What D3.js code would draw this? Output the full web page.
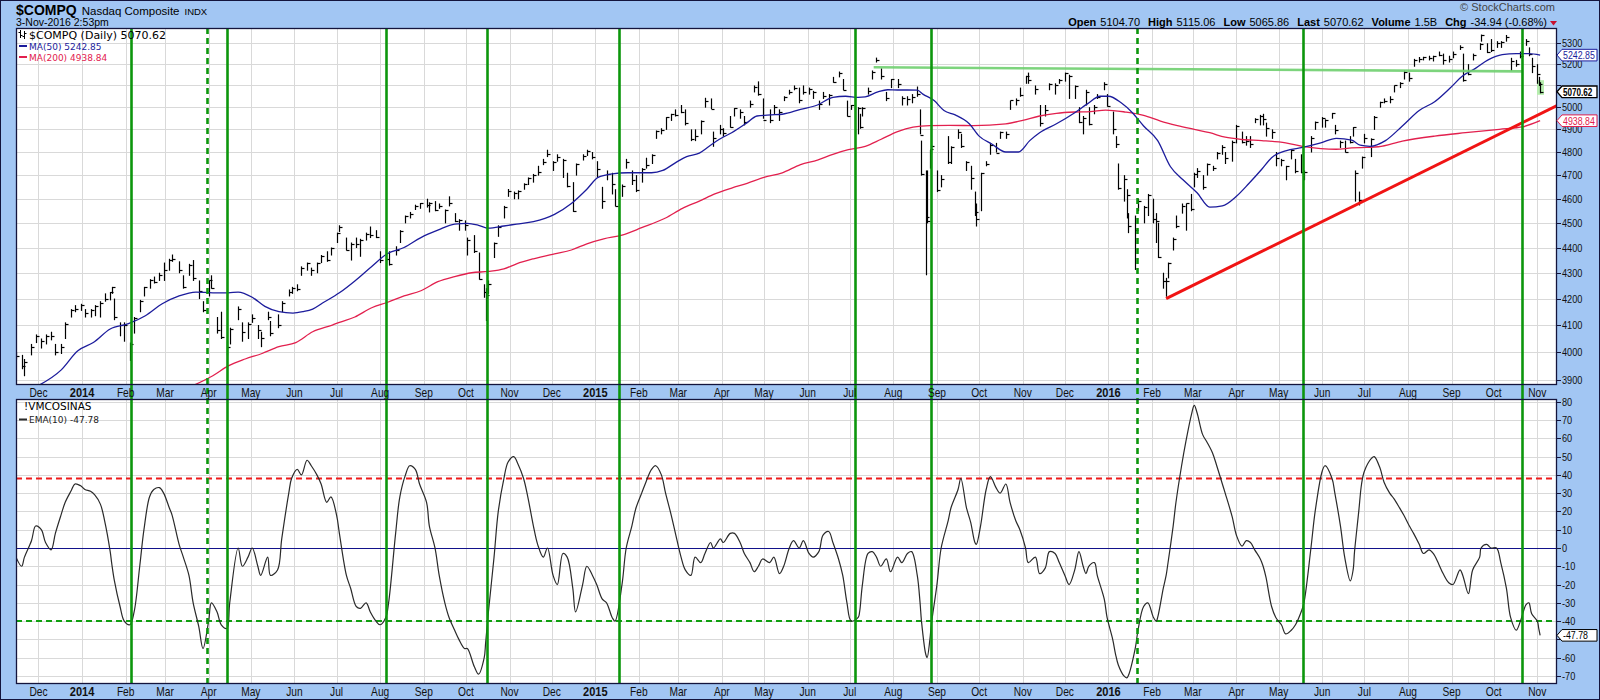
<!DOCTYPE html>
<html><head><meta charset="utf-8">
<script src="https://cdn.jsdelivr.net/npm/d3@7"></script>
<style>body{margin:0;background:#fff}</style>
</head><body><svg id="c" width="1600" height="700"></svg>
<script>
// ---------------- DATA ----------------
const barDates = [
"2013-11-15","2013-11-19","2013-11-21","2013-11-26","2013-11-29",
"2013-12-03","2013-12-06","2013-12-10","2013-12-13","2013-12-17","2013-12-20","2013-12-24","2013-12-27","2013-12-31",
"2014-01-03","2014-01-07","2014-01-10","2014-01-14","2014-01-17","2014-01-21","2014-01-22","2014-01-24","2014-01-28","2014-01-31",
"2014-02-04","2014-02-07","2014-02-11","2014-02-14","2014-02-18","2014-02-21","2014-02-25","2014-02-28",
"2014-03-04","2014-03-06","2014-03-11","2014-03-14","2014-03-18","2014-03-21","2014-03-25","2014-03-28",
"2014-04-01","2014-04-03","2014-04-07","2014-04-10","2014-04-14","2014-04-16","2014-04-22","2014-04-25","2014-04-29",
"2014-05-02","2014-05-06","2014-05-08","2014-05-13","2014-05-15","2014-05-20","2014-05-23","2014-05-28","2014-05-30",
"2014-06-03","2014-06-06","2014-06-10","2014-06-13","2014-06-17","2014-06-20","2014-06-24","2014-06-27",
"2014-07-01","2014-07-03","2014-07-08","2014-07-11","2014-07-15","2014-07-18","2014-07-22","2014-07-25","2014-07-29",
"2014-08-01","2014-08-05","2014-08-07","2014-08-12","2014-08-15","2014-08-19","2014-08-22","2014-08-26","2014-08-29",
"2014-09-03","2014-09-05","2014-09-09","2014-09-12","2014-09-16","2014-09-19","2014-09-23","2014-09-26","2014-09-30",
"2014-10-02","2014-10-07","2014-10-10","2014-10-14","2014-10-15","2014-10-17","2014-10-21","2014-10-24","2014-10-28","2014-10-31",
"2014-11-04","2014-11-07","2014-11-11","2014-11-14","2014-11-18","2014-11-21","2014-11-25","2014-11-28",
"2014-12-02","2014-12-05","2014-12-09","2014-12-12","2014-12-16","2014-12-18","2014-12-23","2014-12-26","2014-12-30",
"2015-01-02","2015-01-06","2015-01-09","2015-01-13","2015-01-15","2015-01-20","2015-01-23","2015-01-27","2015-01-30",
"2015-02-03","2015-02-06","2015-02-10","2015-02-13","2015-02-17","2015-02-20","2015-02-24","2015-02-27",
"2015-03-03","2015-03-06","2015-03-10","2015-03-13","2015-03-17","2015-03-20","2015-03-24","2015-03-26","2015-03-31",
"2015-04-02","2015-04-07","2015-04-10","2015-04-14","2015-04-17","2015-04-21","2015-04-24","2015-04-27","2015-04-30",
"2015-05-05","2015-05-08","2015-05-12","2015-05-15","2015-05-19","2015-05-22","2015-05-26","2015-05-29",
"2015-06-02","2015-06-05","2015-06-09","2015-06-12","2015-06-16","2015-06-19","2015-06-23","2015-06-26","2015-06-29",
"2015-07-02","2015-07-07","2015-07-08","2015-07-10","2015-07-14","2015-07-17","2015-07-20","2015-07-23","2015-07-27","2015-07-30",
"2015-08-04","2015-08-07","2015-08-11","2015-08-14","2015-08-18","2015-08-20","2015-08-21","2015-08-24","2015-08-25","2015-08-27","2015-08-28",
"2015-09-01","2015-09-04","2015-09-09","2015-09-11","2015-09-16","2015-09-18","2015-09-22","2015-09-25","2015-09-28","2015-09-29",
"2015-10-02","2015-10-06","2015-10-09","2015-10-13","2015-10-16","2015-10-20","2015-10-23","2015-10-27","2015-10-30",
"2015-11-03","2015-11-05","2015-11-10","2015-11-13","2015-11-17","2015-11-20","2015-11-24","2015-11-27",
"2015-12-01","2015-12-04","2015-12-08","2015-12-11","2015-12-14","2015-12-16","2015-12-18","2015-12-22","2015-12-24","2015-12-29","2015-12-31",
"2016-01-04","2016-01-06","2016-01-08","2016-01-12","2016-01-14","2016-01-15","2016-01-20","2016-01-22","2016-01-26","2016-01-29",
"2016-02-02","2016-02-04","2016-02-05","2016-02-09","2016-02-11","2016-02-12","2016-02-16","2016-02-18","2016-02-22","2016-02-25","2016-02-29",
"2016-03-02","2016-03-04","2016-03-08","2016-03-11","2016-03-15","2016-03-18","2016-03-22","2016-03-24","2016-03-29",
"2016-04-01","2016-04-05","2016-04-08","2016-04-11","2016-04-14","2016-04-18","2016-04-20","2016-04-22","2016-04-26","2016-04-29",
"2016-05-03","2016-05-06","2016-05-10","2016-05-13","2016-05-17","2016-05-19","2016-05-24","2016-05-27",
"2016-06-01","2016-06-03","2016-06-08","2016-06-10","2016-06-14","2016-06-17","2016-06-21","2016-06-23","2016-06-24","2016-06-27","2016-06-29",
"2016-07-01","2016-07-06","2016-07-08","2016-07-12","2016-07-15","2016-07-19","2016-07-22","2016-07-26","2016-07-29",
"2016-08-02","2016-08-05","2016-08-09","2016-08-12","2016-08-16","2016-08-19","2016-08-23","2016-08-26","2016-08-30",
"2016-09-02","2016-09-07","2016-09-09","2016-09-13","2016-09-16","2016-09-21","2016-09-22","2016-09-26","2016-09-29",
"2016-10-03","2016-10-06","2016-10-10","2016-10-13","2016-10-17","2016-10-20","2016-10-24","2016-10-26","2016-10-28",
"2016-11-01","2016-11-02","2016-11-03"];

const barHigh = [
4000,3990,3975,4030,4065,
4050,4065,4075,4030,4030,4110,4160,4175,4180,
4160,4160,4175,4190,4220,4225,4245,4200,4110,4110,
4035,4130,4195,4245,4275,4285,4300,4340,
4355,4372,4345,4290,4335,4350,4270,4190,
4270,4290,4130,4150,4040,4090,4170,4110,4110,
4140,4100,4075,4150,4115,4140,4190,4235,4245,
4255,4325,4340,4320,4340,4370,4385,4400,
4460,4490,4440,4420,4440,4435,4460,4485,4470,
4385,4400,4385,4405,4470,4530,4545,4575,4582,
4600,4585,4590,4580,4555,4610,4540,4515,4510,
4440,4450,4380,4255,4240,4270,4420,4490,4570,4641,
4630,4635,4665,4690,4705,4740,4770,4810,
4760,4790,4770,4710,4670,4750,4790,4810,4800,
4760,4650,4720,4710,4640,4660,4770,4720,4700,
4730,4775,4790,4895,4905,4955,4970,4990,
5010,4990,4900,4900,4940,5043,5040,4890,4920,
4905,4960,4996,4990,4960,5030,5100,5119,5040,
4990,5010,4990,5050,5080,5100,5090,5100,
5090,5075,5030,5070,5060,5140,5165,5130,5030,
5010,5000,4970,5000,5090,5170,5231,5180,5070,5130,
5130,5050,5050,5060,5095,4990,4850,4720,4720,4810,4830,
4720,4700,4870,4825,4900,4880,4760,4740,4630,4580,
4710,4760,4840,4840,4890,4890,5030,5040,5090,
5145,5160,5100,5010,5010,5110,5110,5130,
5160,5150,5100,5000,4960,5080,5000,5010,5060,5115,5060,
4980,4870,4750,4700,4640,4540,4530,4600,4570,4620,
4600,4540,4500,4300,4280,4340,4440,4530,4580,4580,4620,
4710,4730,4700,4750,4740,4800,4830,4800,4850,
4920,4890,4870,4870,4950,4965,4970,4930,4900,4800,
4770,4740,4810,4770,4790,4720,4870,4935,
4955,4945,4974,4920,4850,4850,4870,4910,4720,4630,4780,
4880,4860,4960,5025,5040,5050,5100,5115,5170,
5160,5225,5234,5235,5240,5240,5260,5250,5240,
5260,5290,5250,5200,5250,5300,5342,5300,5320,
5310,5310,5340,5230,5220,5260,5320,5280,5230,
5200,5140,5115.06];

const barLow = [
3975,3940,3915,3990,4035,
4015,4030,4045,3990,3995,4050,4130,4150,4155,
4130,4130,4135,4130,4190,4195,4220,4120,4060,4040,
3970,4070,4150,4210,4240,4260,4270,4270,
4310,4345,4300,4240,4290,4270,4200,4150,
4210,4240,4070,4050,3990,4030,4120,4040,4050,
4110,4050,4020,4120,4060,4090,4150,4210,4220,
4230,4290,4310,4290,4300,4340,4345,4370,
4420,4465,4390,4350,4400,4365,4430,4440,4440,
4340,4345,4330,4370,4420,4500,4520,4555,4560,
4565,4545,4550,4560,4500,4570,4505,4470,4470,
4370,4380,4275,4205,4117,4220,4360,4445,4520,4610,
4600,4600,4640,4660,4670,4700,4745,4780,
4720,4760,4690,4650,4547,4700,4765,4785,4770,
4690,4560,4680,4620,4570,4610,4730,4660,4630,
4670,4730,4750,4860,4880,4900,4940,4960,
4975,4920,4850,4850,4880,5000,4994,4825,4880,
4870,4910,4960,4950,4920,5000,5070,5055,4950,
4930,4970,4940,5030,5060,5080,5020,5060,
5060,5040,4990,5040,5010,5115,5140,5080,4960,
4990,4880,4905,4960,5060,5130,5210,5130,5030,5090,
5090,5010,5010,5020,5050,4880,4700,4292,4500,4730,4790,
4630,4650,4750,4750,4860,4820,4720,4640,4530,4487,
4550,4740,4790,4800,4860,4860,4990,5010,5050,
5110,5110,5060,4915,4960,5080,5060,5110,
5120,5040,5040,4930,4880,5010,4920,4970,5040,5080,5005,
4880,4820,4640,4590,4520,4460,4313,4550,4500,4530,
4500,4420,4360,4240,4209,4280,4390,4480,4540,4470,4550,
4650,4690,4640,4700,4720,4770,4790,4750,4760,
4840,4840,4830,4820,4930,4920,4920,4870,4860,4740,
4740,4680,4770,4710,4710,4680,4800,4900,
4910,4910,4950,4880,4820,4800,4840,4870,4590,4574,4730,
4840,4780,4900,5000,5020,5020,5070,5090,5130,
5120,5190,5210,5220,5220,5215,5240,5200,5210,
5230,5270,5120,5150,5220,5270,5310,5255,5260,
5280,5280,5310,5170,5190,5230,5290,5240,5160,
5110,5100,5065.86];

const barClose = [
3985,3950,3965,4020,4060,
4040,4060,4060,4000,4020,4105,4155,4160,4176,
4145,4155,4170,4183,4197,4225,4243,4130,4100,4100,
4030,4125,4190,4245,4270,4265,4290,4310,
4350,4355,4310,4245,4330,4280,4230,4155,
4270,4240,4080,4055,4020,4085,4160,4075,4105,
4125,4080,4050,4130,4070,4100,4185,4225,4240,
4235,4320,4338,4310,4337,4368,4350,4398,
4458,4485,4392,4415,4416,4432,4456,4449,4442,
4352,4353,4335,4390,4465,4528,4538,4570,4580,
4572,4582,4552,4568,4552,4580,4508,4512,4493,
4430,4385,4276,4227,4215,4258,4419,4483,4564,4631,
4623,4633,4660,4688,4702,4712,4758,4792,
4755,4780,4766,4653,4547,4748,4781,4806,4777,
4726,4592,4704,4661,4570,4654,4758,4681,4635,
4727,4744,4787,4893,4899,4955,4968,4964,
4979,4927,4859,4871,4937,5026,4994,4863,4901,
4886,4910,4996,4977,4932,5014,5092,5060,4941,
4940,5003,4977,5048,5070,5089,5032,5070,
5082,5068,5014,5051,5055,5117,5160,5080,4958,
5009,4997,4909,4997,5072,5163,5219,5146,5040,5129,
5105,5043,5036,5048,5059,4877,4706,4526,4506,4812,4828,
4636,4683,4756,4822,4889,4827,4756,4687,4543,4517,
4707,4749,4830,4796,4887,4880,5032,5031,5054,
5145,5127,5083,4927,4987,5105,5102,5127,
5156,5142,5099,4933,4952,5071,4923,5002,5048,5107,5007,
4903,4835,4643,4685,4615,4488,4472,4591,4567,4614,
4516,4509,4363,4268,4266,4338,4436,4487,4570,4582,4558,
4703,4718,4649,4748,4729,4796,4821,4773,4846,
4914,4843,4850,4833,4945,4960,4948,4906,4888,4775,
4763,4737,4810,4717,4715,4712,4861,4933,
4952,4943,4974,4895,4843,4800,4843,4910,4708,4594,4779,
4863,4859,4956,5022,5029,5036,5100,5110,5162,
5137,5221,5225,5233,5227,5238,5245,5219,5222,
5249,5283,5126,5155,5244,5295,5339,5257,5269,
5301,5306,5328,5213,5199,5241,5309,5250,5190,
5153,5105,5070.62];

// !VMCOSINAS EMA(10), same dates as barDates
const oscValues = [
-5,-10,-5,4,12,
10,3,-1,8,18,25,31,35,34,
32,31,29,24,15,-2,-8,-18,-32,-40,
-42,-35,-10,10,28,32,33,30,
22,18,2,-5,-15,-30,-43,-55,
-40,-30,-35,-42,-44,-30,0,-10,-5,
0,-10,-15,-5,-15,-12,5,30,38,
43,40,48,45,40,35,25,28,
18,8,-15,-22,-32,-33,-30,-35,-40,
-42,-38,-30,8,28,40,45,43,35,
25,12,0,-15,-30,-38,-45,-50,-55,
-55,-65,-69,-60,-52,-35,-5,20,38,47,
50,46,38,28,12,2,-5,0,
-15,-20,-3,-5,-22,-35,-20,-10,-15,
-20,-28,-30,-38,-40,-20,0,12,22,
30,36,43,45,40,30,18,8,
-5,-12,-15,-5,-8,-3,3,0,5,
3,8,8,3,-3,-8,-13,-10,-6,
-8,-5,-14,-10,0,4,0,4,
-3,-5,-2,7,9,3,-6,-15,-30,
-40,-38,-35,-20,-3,-2,-5,-10,-6,-13,
-5,-8,-3,-2,-15,-30,-40,-58,-60,-50,-42,
-20,0,15,22,32,38,22,14,3,2,
12,32,39,33,30,35,25,15,10,
0,-8,-5,-14,-11,-2,-3,-8,
-15,-20,-12,-2,-10,-14,-10,-8,-15,-28,-38,
-50,-58,-64,-70,-71,-70,-55,-45,-32,-30,
-38,-40,-38,-22,-15,-10,12,25,45,58,73,
78,74,62,58,52,45,35,30,17,
7,1,4,3,-1,-6,-10,-16,-32,-38,
-42,-47,-45,-42,-35,-30,0,20,
42,45,38,30,12,-5,-18,-12,-2,20,35,
42,49,50,44,36,30,27,22,18,
12,8,2,-3,-1,-3,-9,-14,-19,
-20,-12,-15,-25,-12,-5,0,2,0,
0,-8,-22,-38,-45,-40,-31,-30,-36,
-40,-44,-47.78];

const ma50Dates = ["2013-11-29","2013-12-17","2013-12-29","2014-01-09","2014-01-21","2014-02-03","2014-02-15","2014-02-27","2014-03-11","2014-03-23","2014-04-04","2014-04-15","2014-04-22","2014-05-02","2014-05-11","2014-05-21","2014-05-31","2014-06-07","2014-06-14","2014-06-21","2014-07-03","2014-07-14","2014-07-26","2014-08-06","2014-08-18","2014-08-30","2014-09-11","2014-09-23","2014-10-02","2014-10-10","2014-10-17","2014-10-28","2014-11-06","2014-11-18","2014-12-03","2014-12-15","2014-12-26","2015-01-03","2015-01-13","2015-01-24","2015-02-03","2015-02-10","2015-02-18","2015-02-28","2015-03-07","2015-03-16","2015-03-23","2015-03-30","2015-04-08","2015-04-19","2015-04-26","2015-05-06","2015-05-14","2015-05-27","2015-06-08","2015-06-19","2015-06-28","2015-07-07","2015-07-12","2015-07-21","2015-07-28","2015-08-04","2015-08-11","2015-08-18","2015-08-22","2015-08-30","2015-09-06","2015-09-14","2015-09-24","2015-10-01","2015-10-10","2015-10-20","2015-10-29","2015-11-06","2015-11-13","2015-11-25","2015-12-08","2015-12-17","2015-12-26","2016-01-01","2016-01-10","2016-01-18","2016-01-26","2016-02-05","2016-02-14","2016-02-23","2016-03-04","2016-03-13","2016-03-22","2016-04-01","2016-04-10","2016-04-19","2016-04-26","2016-05-06","2016-05-18","2016-05-31","2016-06-11","2016-06-22","2016-06-28","2016-07-05","2016-07-16","2016-07-28","2016-08-09","2016-08-20","2016-08-31","2016-09-09","2016-09-18","2016-09-27","2016-10-07","2016-10-17","2016-10-26","2016-11-03"];
const ma50Values = [3875,3935,4005,4035,4085,4105,4135,4180,4210,4225,4222,4222,4225,4205,4170,4150,4145,4150,4160,4183,4222,4268,4325,4375,4400,4440,4470,4495,4498,4490,4478,4487,4495,4505,4535,4580,4640,4690,4705,4710,4710,4710,4720,4757,4780,4795,4825,4855,4885,4930,4960,4965,4968,4990,5010,5045,5050,5045,5047,5070,5080,5079,5079,5078,5060,5030,4985,4965,4925,4870,4835,4800,4800,4850,4885,4925,4975,5015,5050,5050,5020,4975,4915,4850,4737,4680,4625,4565,4570,4610,4665,4725,4775,4805,4820,4840,4860,4852,4830,4825,4850,4915,4985,5025,5088,5145,5180,5220,5245,5250,5250,5242.85];

const ma200Dates = ["2014-03-20","2014-04-04","2014-04-15","2014-04-27","2014-05-09","2014-05-21","2014-06-02","2014-06-14","2014-06-28","2014-07-03","2014-07-14","2014-07-26","2014-08-06","2014-08-18","2014-08-30","2014-09-11","2014-09-23","2014-10-05","2014-10-17","2014-10-28","2014-11-06","2014-11-18","2014-12-03","2014-12-15","2014-12-26","2015-01-07","2015-01-20","2015-02-03","2015-02-20","2015-03-04","2015-03-16","2015-03-27","2015-04-08","2015-04-19","2015-05-01","2015-05-14","2015-05-27","2015-06-08","2015-06-19","2015-06-30","2015-07-12","2015-07-23","2015-08-04","2015-08-15","2015-08-27","2015-09-10","2015-09-27","2015-10-20","2015-11-01","2015-11-13","2015-11-25","2015-12-08","2015-12-19","2015-12-30","2016-01-13","2016-01-26","2016-02-07","2016-02-19","2016-03-02","2016-03-13","2016-03-24","2016-04-05","2016-04-19","2016-05-06","2016-05-18","2016-05-31","2016-06-11","2016-06-22","2016-07-03","2016-07-11","2016-07-28","2016-08-20","2016-09-11","2016-10-05","2016-10-22","2016-11-03"];
const ma200Values = [3878,3915,3950,3975,3995,4020,4035,4075,4100,4110,4130,4165,4185,4210,4230,4265,4285,4300,4305,4315,4335,4355,4375,4390,4415,4435,4450,4480,4520,4560,4590,4620,4645,4665,4690,4710,4745,4765,4790,4810,4825,4855,4890,4910,4917,4918,4917,4925,4940,4960,4972,4978,4980,4987,4978,4963,4937,4917,4900,4885,4865,4855,4850,4840,4825,4815,4812,4818,4820,4823,4848,4870,4885,4900,4912,4938.84];

const trendLine = [["2016-02-11",4200],["2016-11-15",5007]];
const resistanceLine = [["2015-07-18",5185],["2016-10-21",5166]];
const signalSolid = ["2014-02-05","2014-04-14","2014-08-05","2014-10-16","2015-01-18","2015-07-05","2015-08-28","2016-05-18","2016-10-21"];
const signalDashed = ["2014-03-31","2016-01-21"];
const priceTicks = [3900,4000,4100,4200,4300,4400,4500,4600,4700,4800,4900,5000,5100,5200,5300];
const oscTicks = [-70,-60,-50,-40,-30,-20,-10,0,10,20,30,40,50,60,70,80];
const overbought = 38, oversold = -40;
const quote = {open:"5104.70",high:"5115.06",low:"5065.86",last:"5070.62",volume:"1.5B",chg:"-34.94 (-0.68%)"};

// ---------------- LAYOUT ----------------
const W=1600,H=700, L=16, R=1557, T1=28, B1=385, T2=399, B2=684;
const BG="#a2c6f3", FR="#14143c";
const parse=d3.timeParse("%Y-%m-%d");
const x=d3.scaleTime().domain([parse("2013-11-15"),parse("2016-11-15")]).range([L,R]);
const y=d3.scaleLog().domain([3882,5374]).range([B1,T1]);
const y2=d3.scaleLinear().domain([-74.4,81.5]).range([B2,T2]);
const px=v=>Math.round(v)+0.5;
// narrow-font look: horizontally scaled text placed at (tx,ty)
function narrowText(parent,tx,ty,txt,k,anchor){
  return parent.append("text").attr("transform",`translate(${tx},${ty}) scale(${k},1)`)
    .attr("text-anchor",anchor||"start").text(txt);
}

const svg=d3.select("#c");
svg.append("rect").attr("width",W).attr("height",H).attr("fill",BG);
svg.append("rect").attr("x",0.5).attr("y",0.5).attr("width",W-1).attr("height",H-1).attr("fill","none").attr("stroke",FR);
svg.append("rect").attr("x",L).attr("y",T1).attr("width",R-L).attr("height",B1-T1).attr("fill","#fff");
svg.append("rect").attr("x",L).attr("y",T2).attr("width",R-L).attr("height",B2-T2).attr("fill","#fff");
const defs=svg.append("defs");
defs.append("clipPath").attr("id","c1").append("rect").attr("x",L).attr("y",T1).attr("width",R-L).attr("height",B1-T1);
defs.append("clipPath").attr("id","c2").append("rect").attr("x",L).attr("y",T2).attr("width",R-L).attr("height",B2-T2);

const months=d3.timeMonth.range(d3.timeMonth.ceil(x.domain()[0]),x.domain()[1]);
const grid=svg.append("g").attr("stroke","#d9d9d9").attr("stroke-width",1);
months.forEach(m=>{
  grid.append("line").attr("x1",px(x(m))).attr("x2",px(x(m))).attr("y1",T1).attr("y2",B1);
  grid.append("line").attr("x1",px(x(m))).attr("x2",px(x(m))).attr("y1",T2).attr("y2",B2);
});
priceTicks.forEach(t=>grid.append("line").attr("x1",L).attr("x2",R).attr("y1",px(y(t))).attr("y2",px(y(t))));
oscTicks.forEach(t=>grid.append("line").attr("x1",L).attr("x2",R).attr("y1",px(y2(t))).attr("y2",px(y2(t))));

// ---- price panel
const g1=svg.append("g").attr("clip-path","url(#c1)");
const n=barDates.length;
const bars=d3.range(n).map(i=>({d:parse(barDates[i]),h:barHigh[i],l:barLow[i],c:barClose[i]}));
const last=bars[n-1];
g1.append("rect").attr("x",px(x(last.d))-3.5).attr("y",y(last.h)-2).attr("width",7).attr("height",y(last.l)-y(last.h)+4).attr("fill","#b6eeae");
const bg=g1.append("g").attr("stroke","#000").attr("stroke-width",1.2);
bars.forEach(b=>{
  const xx=px(x(b.d));
  bg.append("line").attr("x1",xx).attr("x2",xx).attr("y1",y(b.h)).attr("y2",y(b.l)+0.5);
  bg.append("line").attr("x1",xx).attr("x2",xx+3).attr("y1",px(y(b.c))).attr("y2",px(y(b.c)));
});
const lineP=d3.line().x(d=>x(d[0])).y(d=>y(d[1])).curve(d3.curveMonotoneX);
g1.append("path").attr("d",lineP(ma200Dates.map((d,i)=>[parse(d),ma200Values[i]]))).attr("fill","none").attr("stroke","#e2204e").attr("stroke-width",1.3);
g1.append("path").attr("d",lineP(ma50Dates.map((d,i)=>[parse(d),ma50Values[i]]))).attr("fill","none").attr("stroke","#1c1c9c").attr("stroke-width",1.3);

// ---- oscillator panel
const g2=svg.append("g").attr("clip-path","url(#c2)");
g2.append("line").attr("x1",L).attr("x2",R).attr("y1",px(y2(0))).attr("y2",px(y2(0))).attr("stroke","#12128a").attr("stroke-width",1.2);
g2.append("line").attr("x1",L).attr("x2",R).attr("y1",y2(overbought)).attr("y2",y2(overbought)).attr("stroke","#ee1c1c").attr("stroke-width",2).attr("stroke-dasharray","6,4");
g2.append("line").attr("x1",L).attr("x2",R).attr("y1",y2(oversold)).attr("y2",y2(oversold)).attr("stroke","#119f11").attr("stroke-width",2).attr("stroke-dasharray","6,4");
const lineO=d3.line().x(d=>x(d[0])).y(d=>y2(d[1])).curve(d3.curveCatmullRom.alpha(0.5));
g2.append("path").attr("d",lineO(barDates.map((d,i)=>[parse(d),oscValues[i]]))).attr("fill","none").attr("stroke","#2a2a2a").attr("stroke-width",1.2);

// ---- green signal lines
const sg=svg.append("g").attr("stroke","#0c960c").attr("stroke-width",2.6);
signalSolid.forEach(d=>sg.append("line").attr("x1",px(x(parse(d)))).attr("x2",px(x(parse(d)))).attr("y1",T1).attr("y2",B2));
signalDashed.forEach(d=>sg.append("line").attr("x1",px(x(parse(d)))).attr("x2",px(x(parse(d)))).attr("y1",T1).attr("y2",B2).attr("stroke-dasharray","6,4"));

// ---- trend lines
g1.append("line").attr("x1",x(parse(resistanceLine[0][0]))).attr("y1",y(resistanceLine[0][1])).attr("x2",x(parse(resistanceLine[1][0]))).attr("y2",y(resistanceLine[1][1])).attr("stroke","#6fcf6f").attr("stroke-width",2.6).attr("stroke-opacity",0.9);
g1.append("line").attr("x1",x(parse(trendLine[0][0]))).attr("y1",y(trendLine[0][1])).attr("x2",x(parse(trendLine[1][0]))).attr("y2",y(trendLine[1][1])).attr("stroke","#f01414").attr("stroke-width",3);

// ---- frames
svg.append("rect").attr("x",L+0.5).attr("y",T1+0.5).attr("width",R-L-1).attr("height",B1-T1-1).attr("fill","none").attr("stroke",FR).attr("stroke-width",1.3);
svg.append("rect").attr("x",L+0.5).attr("y",T2+0.5).attr("width",R-L-1).attr("height",B2-T2-1).attr("fill","none").attr("stroke",FR).attr("stroke-width",1.3);

// ---- date axes
const axFont="'Liberation Sans',Arial,sans-serif";
const da=svg.append("g").attr("font-family",axFont).attr("fill","#111");
[397,696].forEach(yy=>{
  months.forEach(m=>{
    const isY=m.getMonth()===0;
    narrowText(da,x(m),yy,isY?d3.timeFormat("%Y")(m):d3.timeFormat("%b")(m),0.85,"middle")
      .attr("font-size",isY?13:12).attr("font-weight",isY?"bold":"normal");
  });
});

// ---- right axes & tags
const tagVals=[
  {yy:y(ma50Values[ma50Values.length-1]),txt:ma50Values[ma50Values.length-1].toFixed(2),stroke:"#1c1c9c",color:"#1c1c9c",bold:false},
  {yy:y(ma200Values[ma200Values.length-1]),txt:ma200Values[ma200Values.length-1].toFixed(2),stroke:"#e2204e",color:"#e2204e",bold:false},
  {yy:y(last.c),txt:last.c.toFixed(2),stroke:"#000",color:"#000",bold:true},
  {yy:y2(oscValues[n-1]),txt:oscValues[n-1].toFixed(2),stroke:"#000",color:"#000",bold:false}];
const hidden=yy=>tagVals.some(t=>Math.abs(t.yy-yy)<7.5);
const ra=svg.append("g").attr("font-family",axFont).attr("font-size",11.5).attr("fill","#111");
function axisLabel(yy,t){
  ra.append("line").attr("x1",R).attr("x2",R+4).attr("y1",px(yy)).attr("y2",px(yy)).attr("stroke",FR);
  if(hidden(yy)) return;
  narrowText(ra,R+5,yy+4,t,0.8);
}
priceTicks.forEach(t=>axisLabel(y(t),t));
oscTicks.forEach(t=>axisLabel(y2(t),t));
const tg=svg.append("g").attr("font-family",axFont).attr("font-size",11);
tagVals.forEach(t=>{
  const h=5.8,yy=t.yy;
  tg.append("path").attr("d",`M${R},${yy} L${R+5},${yy-h} L${W-3},${yy-h} L${W-3},${yy+h} L${R+5},${yy+h} Z`)
    .attr("fill","#fff").attr("stroke",t.stroke).attr("stroke-width",t.bold?1.3:1);
  narrowText(tg,R+6,yy+3.9,t.txt,t.bold?0.74:0.8).attr("font-weight",t.bold?"bold":"normal").attr("fill",t.color);
});

// ---- header
const hf="'Liberation Sans',Arial,sans-serif";
const t1=svg.append("text").attr("x",16).attr("y",15).attr("font-family",hf).attr("fill","#000");
t1.append("tspan").attr("font-size",14).attr("font-weight","bold").text("$COMPQ");
t1.append("tspan").attr("font-size",11.5).attr("dx",5).text("Nasdaq Composite");
t1.append("tspan").attr("font-size",9.5).attr("dx",5).text("INDX");
svg.append("text").attr("x",16).attr("y",26).attr("font-family",hf).attr("font-size",10.5).text("3-Nov-2016 2:53pm");
svg.append("text").attr("x",1555).attr("y",11).attr("text-anchor","end").attr("font-family",hf).attr("font-size",11).attr("fill","#444").text("© StockCharts.com");
const t2=svg.append("text").attr("x",1547).attr("y",25.5).attr("text-anchor","end").attr("font-family",hf).attr("font-size",11).attr("fill","#000");
[["Open",quote.open],["High",quote.high],["Low",quote.low],["Last",quote.last],["Volume",quote.volume],["Chg",quote.chg]].forEach(([k,v],i)=>{
  t2.append("tspan").attr("font-weight","bold").attr("dx",i?8:0).text(k);
  t2.append("tspan").attr("dx",4).text(v);
});
svg.append("path").attr("d","M1550,21 L1557,21 L1553.5,25.5 Z").attr("fill","#c8102e");

// ---- legends
const lf="'DejaVu Sans',Verdana,sans-serif";
const ic=svg.append("g").attr("stroke","#000").attr("stroke-width",1);
ic.append("line").attr("x1",20.5).attr("x2",20.5).attr("y1",30).attr("y2",38);
ic.append("line").attr("x1",18.5).attr("x2",20.5).attr("y1",32.5).attr("y2",32.5);
ic.append("line").attr("x1",20.5).attr("x2",22.5).attr("y1",35.5).attr("y2",35.5);
ic.append("line").attr("x1",24.5).attr("x2",24.5).attr("y1",31).attr("y2",39);
ic.append("line").attr("x1",22.5).attr("x2",24.5).attr("y1",36.5).attr("y2",36.5);
ic.append("line").attr("x1",24.5).attr("x2",26.5).attr("y1",33.5).attr("y2",33.5);
svg.append("text").attr("x",29).attr("y",39).attr("font-family",lf).attr("font-size",11).text("$COMPQ (Daily) "+last.c.toFixed(2));
svg.append("line").attr("x1",19).attr("x2",27).attr("y1",46).attr("y2",46).attr("stroke","#1c1c9c").attr("stroke-width",2);
svg.append("text").attr("x",29).attr("y",49.5).attr("font-family",lf).attr("font-size",9).attr("fill","#1c1c9c").text("MA(50) "+ma50Values[ma50Values.length-1].toFixed(2));
svg.append("line").attr("x1",19).attr("x2",27).attr("y1",57).attr("y2",57).attr("stroke","#e2204e").attr("stroke-width",2);
svg.append("text").attr("x",29).attr("y",60.5).attr("font-family",lf).attr("font-size",9).attr("fill","#e2204e").text("MA(200) "+ma200Values[ma200Values.length-1].toFixed(2));
svg.append("text").attr("x",24).attr("y",410).attr("font-family",lf).attr("font-size",10.5).text("!VMCOSINAS");
svg.append("line").attr("x1",19).attr("x2",27).attr("y1",419.5).attr("y2",419.5).attr("stroke","#2a2a2a").attr("stroke-width",2);
svg.append("text").attr("x",29).attr("y",423).attr("font-family",lf).attr("font-size",9).attr("fill","#222").text("EMA(10) "+oscValues[n-1].toFixed(2));
</script></body></html>
